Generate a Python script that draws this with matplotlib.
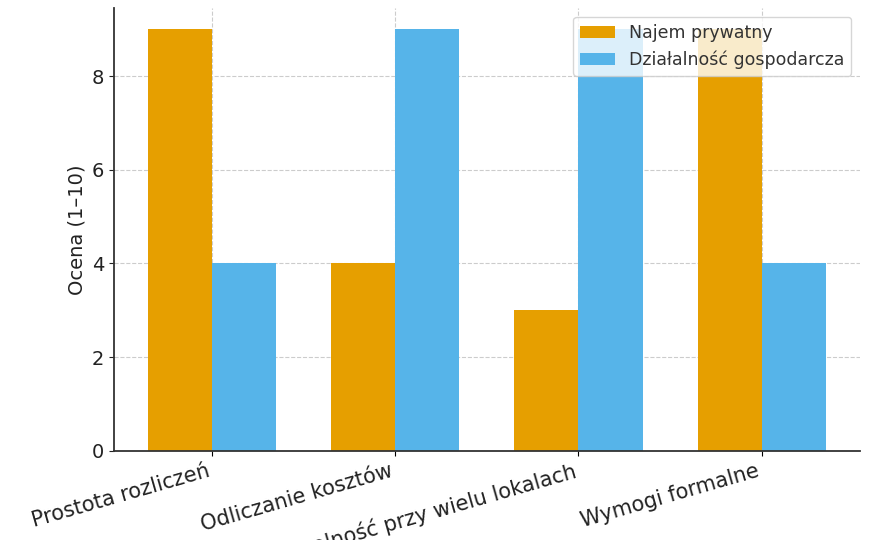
import numpy as np
import matplotlib
matplotlib.use('Agg')
import matplotlib.pyplot as plt

# categories and scores
kryteria = ['Prostota rozliczeń', 'Odliczanie kosztów',
            'Opłacalność przy wielu lokalach', 'Wymogi formalne']
najem_prywatny = [9, 4, 3, 9]
dzialalnosc = [4, 9, 9, 4]

plt.rcParams['font.family'] = 'DejaVu Sans'

fig = plt.figure(figsize=(8.8, 5.4), dpi=100)
ax = fig.add_axes([0.1295, 0.165, 0.8475, 0.82])

x = np.arange(len(kryteria))
w = 0.35
ax.bar(x - w/2, najem_prywatny, w, color='#E69F00', label='Najem prywatny', zorder=2)
ax.bar(x + w/2, dzialalnosc, w, color='#56B4E9', label='Działalność gospodarcza', zorder=2)

ax.set_xticks(x)
ax.set_xticklabels(kryteria, rotation=16, ha='right', fontsize=15, color='#222222')
ax.tick_params(axis='y', labelsize=14, colors='#222222')
ax.set_ylabel('Ocena (1–10)', fontsize=14, color='#222222')
ax.set_yticks([0, 2, 4, 6, 8])

ax.grid(True, linestyle='--', color='#cccccc', linewidth=0.8, zorder=0)
ax.set_axisbelow(True)
for s in ['top', 'right']:
    ax.spines[s].set_visible(False)
for s in ['left', 'bottom']:
    ax.spines[s].set_color('#333333')
    ax.spines[s].set_linewidth(1.3)

leg = ax.legend(loc='upper right', fontsize=12.5, framealpha=0.8)
for t in leg.get_texts():
    t.set_color('#333333')

fig.savefig('out.png', dpi=100)
